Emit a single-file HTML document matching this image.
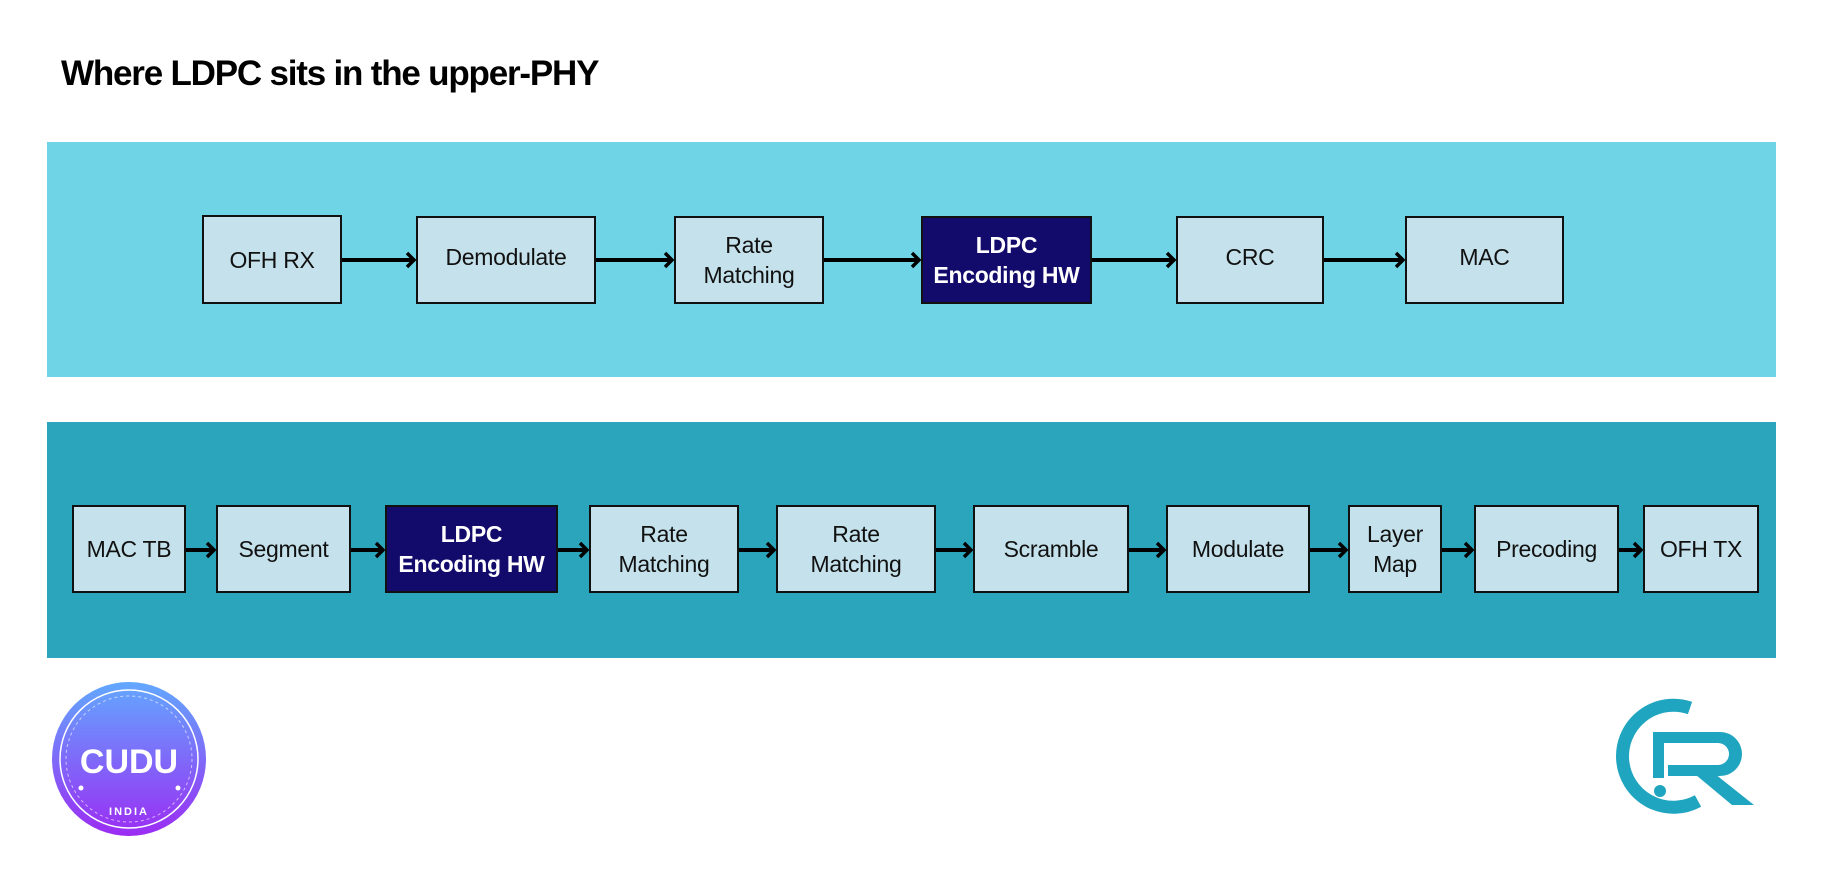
<!DOCTYPE html>
<html><head><meta charset="utf-8"><style>
html,body{margin:0;padding:0;background:#fff;}
body{width:1827px;height:876px;position:relative;overflow:hidden;font-family:"Liberation Sans",sans-serif;}
.t{position:absolute;left:61px;top:54px;font-size:35px;font-weight:bold;letter-spacing:-1.2px;color:#000;}
.band{position:absolute;left:47px;width:1729px;}
.b{position:absolute;box-sizing:border-box;border:2px solid #111;background:#c5e2ec;display:flex;align-items:center;justify-content:center;text-align:center;font-size:23px;line-height:30px;color:#111;letter-spacing:-0.3px;}
.d{background:#130b6b;color:#fff;font-weight:bold;}
svg{position:absolute;left:0;top:0;}
</style></head><body>
<div class="t">Where LDPC sits in the upper-PHY</div>
<div class="band" style="top:142px;height:235px;background:#6fd4e6"></div>
<div class="band" style="top:422px;height:236px;background:#2ba5bb"></div>

<svg width="1827" height="876">
<defs><marker id="a" markerWidth="12" markerHeight="18" refX="9" refY="9" orient="auto" markerUnits="userSpaceOnUse"><path d="M2,2 L9,9 L2,16" fill="none" stroke="#000" stroke-width="3.5"/></marker></defs>
<g stroke="#000" stroke-width="4" marker-end="url(#a)">
<line x1="342" y1="260" x2="414" y2="260"/>
<line x1="596" y1="260" x2="672" y2="260"/>
<line x1="824" y1="260" x2="919" y2="260"/>
<line x1="1092" y1="260" x2="1174" y2="260"/>
<line x1="1324" y1="260" x2="1403" y2="260"/>
<line x1="186" y1="550" x2="214" y2="550"/>
<line x1="351" y1="550" x2="383" y2="550"/>
<line x1="558" y1="550" x2="587" y2="550"/>
<line x1="739" y1="550" x2="774" y2="550"/>
<line x1="936" y1="550" x2="971" y2="550"/>
<line x1="1129" y1="550" x2="1164" y2="550"/>
<line x1="1310" y1="550" x2="1346" y2="550"/>
<line x1="1442" y1="550" x2="1472" y2="550"/>
<line x1="1619" y1="550" x2="1641" y2="550"/>
</g>
<defs><linearGradient id="g" x1="0" y1="0" x2="0" y2="1"><stop offset="0" stop-color="#62a8ff"/><stop offset="1" stop-color="#9b2cf3"/></linearGradient></defs>
<circle cx="129" cy="759" r="77" fill="url(#g)"/>
<circle cx="129" cy="759" r="69" fill="none" stroke="#fff" stroke-width="1.5"/>
<circle cx="129" cy="759" r="63" fill="none" stroke="#fff" stroke-width="1" stroke-dasharray="3 3" opacity="0.6"/>
<circle cx="81" cy="788" r="2.5" fill="#fff"/><circle cx="178" cy="788" r="2.5" fill="#fff"/>
<text x="129" y="773" text-anchor="middle" font-family="Liberation Sans" font-weight="bold" font-size="34" fill="#fff">CUDU</text>
<text x="129" y="815" text-anchor="middle" font-family="Liberation Sans" font-weight="bold" font-size="11" fill="#fff" letter-spacing="2">INDIA</text>
<path d="M1690,708 A51,51 0 1 0 1698,801" fill="none" stroke="#1fa5c0" stroke-width="13"/>
<path d="M1653,732 L1720,732 A22,22 0 0 1 1720,776 L1668,776 L1668,765 L1718,765 A11,11 0 0 0 1718,743 L1664,743 L1664,778 L1653,778 Z" fill="#1fa5c0"/>
<path d="M1690,770 L1710,770 L1754,805 L1732,805 Z" fill="#1fa5c0"/>
<circle cx="1660" cy="791" r="6" fill="#1fa5c0"/>
</svg>

<div class="b" style="left:202px;top:215px;width:140px;height:89px">OFH RX</div>
<div class="b" style="left:416px;top:216px;width:180px;height:88px;padding-bottom:6px">Demodulate</div>
<div class="b" style="left:674px;top:216px;width:150px;height:88px">Rate<br>Matching</div>
<div class="b d" style="left:921px;top:216px;width:171px;height:88px">LDPC<br>Encoding HW</div>
<div class="b" style="left:1176px;top:216px;width:148px;height:88px;padding-bottom:6px">CRC</div>
<div class="b" style="left:1405px;top:216px;width:159px;height:88px;padding-bottom:6px">MAC</div>

<div class="b" style="left:72px;top:505px;width:114px;height:88px">MAC TB</div>
<div class="b" style="left:216px;top:505px;width:135px;height:88px">Segment</div>
<div class="b d" style="left:385px;top:505px;width:173px;height:88px">LDPC<br>Encoding HW</div>
<div class="b" style="left:589px;top:505px;width:150px;height:88px">Rate<br>Matching</div>
<div class="b" style="left:776px;top:505px;width:160px;height:88px">Rate<br>Matching</div>
<div class="b" style="left:973px;top:505px;width:156px;height:88px">Scramble</div>
<div class="b" style="left:1166px;top:505px;width:144px;height:88px">Modulate</div>
<div class="b" style="left:1348px;top:505px;width:94px;height:88px">Layer<br>Map</div>
<div class="b" style="left:1474px;top:505px;width:145px;height:88px">Precoding</div>
<div class="b" style="left:1643px;top:505px;width:116px;height:88px">OFH TX</div>
</body></html>
